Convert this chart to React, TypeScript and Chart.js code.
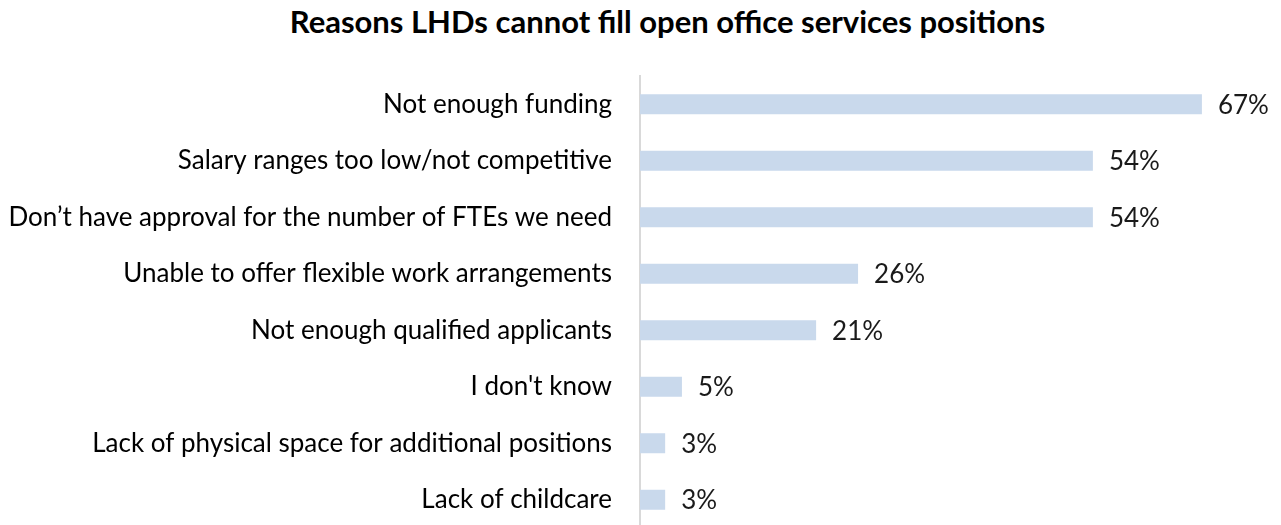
import React, { useEffect, useRef } from "react";
import { Chart, registerables } from "chart.js";

Chart.register(...registerables);

const categories: string[] = [
  "Not enough funding",
  "Salary ranges too low/not competitive",
  "Don\u2019t have approval for the number of FTEs we need",
  "Unable to offer flexible work arrangements",
  "Not enough qualified applicants",
  "I don't know",
  "Lack of physical space for additional positions",
  "Lack of childcare",
];
const values: number[] = [67, 54, 54, 26, 21, 5, 3, 3];
const valueLabels: string[] = ["67%", "54%", "54%", "26%", "21%", "5%", "3%", "3%"];
const titleText = "Reasons LHDs cannot fill open office services positions";

const FONT = "Lato, 'Open Sans', sans-serif";

const dataLabelPlugin = {
  id: "dataLabels",
  afterDatasetsDraw(chart: any) {
    const ctx = chart.ctx;
    const meta = chart.getDatasetMeta(0);
    ctx.save();
    ctx.font = `26px ${FONT}`;
    ctx.fillStyle = "#1a1a1a";
    ctx.textAlign = "left";
    ctx.textBaseline = "middle";
    meta.data.forEach((bar: any, i: number) => {
      ctx.fillText(valueLabels[i], bar.x + 16, bar.y + 1);
    });
    ctx.restore();
  },
};

export default function App() {
  const ref = useRef<HTMLCanvasElement | null>(null);
  useEffect(() => {
    if (!ref.current) return;
    const chart = new Chart(ref.current, {
      type: "bar",
      data: {
        labels: categories,
        datasets: [
          {
            data: values,
            backgroundColor: "#C9D9EC",
            borderWidth: 0,
            barPercentage: 0.354,
            categoryPercentage: 1,
          },
        ],
      },
      options: {
        indexAxis: "y",
        animation: false,
        responsive: false,
        maintainAspectRatio: false,
        layout: { padding: { top: 76, right: 12, left: 0, bottom: 0 } },
        plugins: {
          legend: { display: false },
          tooltip: { enabled: false },
          title: { display: false },
        },
        scales: {
          x: {
            display: false,
            min: 0,
            max: 75,
          },
          y: {
            afterFit(scale: any) {
              scale.width = 640;
              scale.paddingTop = 0;
              scale.paddingBottom = 0;
            },
            grid: { display: false, drawTicks: false },
            border: { display: true, color: "#D9D9D9", width: 2 },
            ticks: {
              padding: 28,
              color: "#000000",
              font: { family: FONT, size: 26 },
            },
          },
        },
      },
      plugins: [dataLabelPlugin],
    });
    return () => chart.destroy();
  }, []);

  return (
    <div style={{ position: "fixed", left: 0, top: 0, width: 1281, height: 528, background: "#fff" }}>
      <div
        style={{
          position: "absolute",
          left: 0,
          top: 3,
          width: 1281,
          boxSizing: "border-box",
          paddingLeft: 54,
          textAlign: "center",
          fontFamily: FONT,
          fontWeight: "bold",
          fontSize: 31,
          color: "#000",
          lineHeight: "36px",
          whiteSpace: "nowrap",
        }}
      >
        {titleText}
      </div>
      <canvas ref={ref} width={1281} height={528} style={{ position: "absolute", left: 0, top: 0 }} />
    </div>
  );
}
